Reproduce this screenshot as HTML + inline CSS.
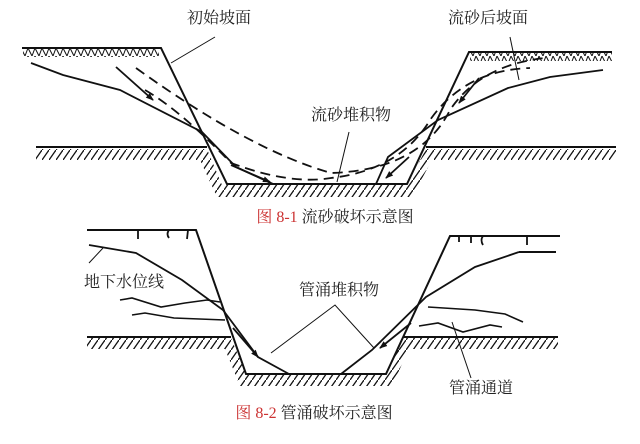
<!DOCTYPE html>
<html><head><meta charset="utf-8"><style>
html,body{margin:0;padding:0;background:#fff;}
svg{display:block}
text{font-family:"Liberation Serif","Noto Serif CJK SC",serif;font-size:16px;fill:#222}
</style></head><body>
<svg width="640" height="444" viewBox="0 0 640 444" xmlns="http://www.w3.org/2000/svg">
<defs>
<pattern id="h" width="7" height="10" patternUnits="userSpaceOnUse"><line x1="0" y1="10" x2="7" y2="0" stroke="#111" stroke-width="1.3"/></pattern>
<pattern id="z" width="14" height="8" patternUnits="userSpaceOnUse"><polyline points="0,0 4,8 7,0 11,8 14,0" fill="none" stroke="#111" stroke-width="1"/></pattern>
<marker id="a" markerWidth="8" markerHeight="8" refX="7" refY="4" orient="auto" markerUnits="userSpaceOnUse"><path d="M0,1 L8,4 L0,7 Z" fill="#111"/></marker>
</defs>
<g stroke="#111" fill="none" stroke-width="2">
<rect x="23" y="49" width="136" height="8" fill="url(#z)" stroke="none"/>
<rect x="470" y="53" width="142" height="8" fill="url(#z)" stroke="none"/>
<polygon points="36,149 207,149 222,185 407,185 426,149 616,149 616,160 432,160 412,197 217,197 200,160 36,160" fill="url(#h)" stroke="none"/>
<polyline points="22,48 161,48 227,184 407,184 469,52 612,52"/>
<line x1="36" y1="147" x2="207" y2="147"/>
<line x1="426" y1="147" x2="616" y2="147"/>
<polyline stroke-width="1.8" points="31,63 63,75 120,90 202,132 236,167 273,184"/>
<polyline stroke-width="1.8" points="603,70 550,77 508,88 438,120 388,157 376,184"/>
<path stroke-width="1.8" stroke-dasharray="10,6" d="M136,68 Q250,150 331,173 Q420,170 450,110 Q480,65 545,58"/>
<path stroke-width="1.8" stroke-dasharray="10,6" d="M145,90 Q180,110 231,163 Q290,185 331,178 Q400,170 430,120 Q465,70 530,68"/>
<line stroke-width="1.8" x1="116" y1="67" x2="153" y2="100" marker-end="url(#a)"/>
<line stroke-width="1.8" x1="479" y1="78" x2="459" y2="103" marker-end="url(#a)"/>
<line stroke-width="1.8" x1="231" y1="165" x2="270" y2="182" marker-end="url(#a)"/>
<line stroke-width="1.8" x1="409" y1="157" x2="386" y2="178" marker-end="url(#a)"/>
<g stroke-width="1"><line x1="215" y1="37" x2="171" y2="63"/><line x1="510" y1="37" x2="519" y2="80"/><line x1="349" y1="132" x2="337" y2="182"/></g>
<polygon points="87,338 231,338 246,374 386,374 403,338 558,338 558,349 409,349 392,386 240,386 225,349 87,349" fill="url(#h)" stroke="none"/>
<polyline points="87,230 196,230 246,374 386,374 450,236 560,236"/>
<line x1="519" y1="252" x2="556" y2="252"/>
<line x1="87" y1="337" x2="231" y2="337"/>
<line x1="403" y1="337" x2="558" y2="337"/>
<g stroke-width="1.8"><line x1="138" y1="230" x2="138" y2="239"/><path d="M169,230 Q166,234 169,238"/><line x1="188" y1="230" x2="187" y2="239"/>
<line x1="459" y1="236" x2="459" y2="242"/><line x1="471" y1="236" x2="471" y2="243"/><path d="M483,236 Q480,240 483,245"/><line x1="527" y1="236" x2="527" y2="245"/></g>
<polyline stroke-width="1.8" points="89,245 136,253 182,280 223,310 258,357 289,374"/>
<polyline stroke-width="1.8" points="519,252 475,267 426,297 372,350 341,374"/>
<line stroke-width="1.8" x1="233" y1="328" x2="258" y2="357" marker-end="url(#a)"/>
<line stroke-width="1.8" x1="411" y1="323" x2="380" y2="348" marker-end="url(#a)"/>
<polyline stroke-width="1.6" points="120,300 132,298 161,307 185,303 207,300 220,302"/>
<polyline stroke-width="1.6" points="132,315 145,313 174,318 225,320"/>
<polyline stroke-width="1.6" points="428,307 475,310 505,314 523,322"/>
<polyline stroke-width="1.6" points="419,326 438,323 463,332 490,325 502,327"/>
<g stroke-width="1"><line x1="103" y1="248" x2="89" y2="263"/><polyline points="271,353 335,305 374,348"/><line x1="452" y1="322" x2="471" y2="378"/></g>
</g>
<text x="219" y="23" text-anchor="middle">初始坡面</text>
<text x="488" y="23" text-anchor="middle">流砂后坡面</text>
<text x="351" y="120" text-anchor="middle">流砂堆积物</text>
<text x="335" y="222" text-anchor="middle"><tspan fill="#c33">图 8-1</tspan>  流砂破坏示意图</text>
<text x="124" y="287" text-anchor="middle">地下水位线</text>
<text x="339" y="295" text-anchor="middle">管涌堆积物</text>
<text x="481" y="393" text-anchor="middle">管涌通道</text>
<text x="314" y="418" text-anchor="middle"><tspan fill="#c33">图 8-2</tspan>  管涌破坏示意图</text>
</svg>
</body></html>
